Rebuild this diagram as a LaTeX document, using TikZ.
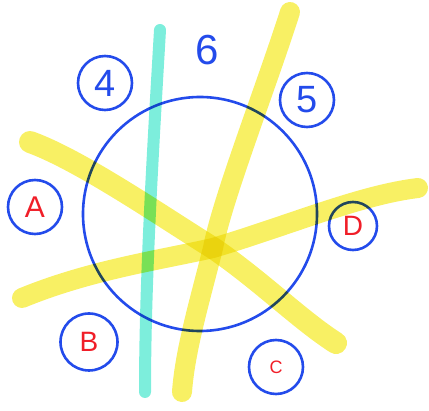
\documentclass[tikz,border=0pt]{standalone}
\usepackage{fontspec}
\setmainfont{Liberation Sans}
\definecolor{penblue}{RGB}{35,75,235}
\definecolor{penred}{RGB}{240,30,40}
\definecolor{hlyellow}{RGB}{248,240,100}
\definecolor{hlcyan}{RGB}{125,238,220}
\begin{document}
\begin{tikzpicture}[x=1pt,y=-1pt,
  pen/.style={draw=penblue,line width=2.6pt},
  ring/.style={circle,pen,minimum size=54pt,inner sep=0pt},
  big/.style={font=\fontsize{38}{38}\selectfont,text=penblue},
  lbl/.style={font=\fontsize{30}{30}\selectfont,text=penred},
  hl/.style={draw=hlyellow,line width=20pt,line cap=round},
  hlc/.style={draw=hlcyan,line width=12pt,line cap=round}]
\useasboundingbox (0,0) rectangle (429,411);
\node[circle,pen,minimum size=234pt,inner sep=0pt] (main) at (200,214) {};
\node[ring,big] (n4) at (105,83) {4};
\node[ring,big] (n5) at (307,100) {5};
\node[ring,lbl] (nA) at (35,207) {A};
\node[ring,lbl,minimum size=57pt,font=\fontsize{28}{28}\selectfont] (nB) at (89,342) {B};
\node[ring,lbl,font=\fontsize{18}{18}\selectfont] (nC) at (276,367) {C};
\node[ring,lbl,minimum size=48pt,font=\fontsize{28}{28}\selectfont] (nD) at (353,226) {D};
\node[big,font=\fontsize{42}{42}\selectfont] (n6) at (207,50) {6};
\begin{scope}[blend mode=multiply]
\coordinate (c1) at (160,30);
\coordinate (c2) at (145,392);
\draw[hlc] (c1) .. controls (153,150) and (145,280) .. (c2);
\coordinate (y1a) at (30,142);
\coordinate (y1b) at (336,343);
\coordinate (y2a) at (22,298);
\coordinate (y2b) at (418,188);
\coordinate (y3a) at (290,12);
\coordinate (y3b) at (182,392);
\coordinate (ctr) at (213,248);
\draw[hl,line width=22pt] (y1a) .. controls (80,160) and (160,215) .. (ctr) .. controls (260,280) and (300,320) .. (y1b);
\draw[hl] (y2a) .. controls (90,270) and (160,260) .. (ctr) .. controls (290,225) and (360,195) .. (y2b);
\draw[hl] (y3a) .. controls (265,90) and (222,200) .. (ctr) .. controls (200,300) and (185,350) .. (y3b);
\end{scope}
\end{tikzpicture}
\end{document}
